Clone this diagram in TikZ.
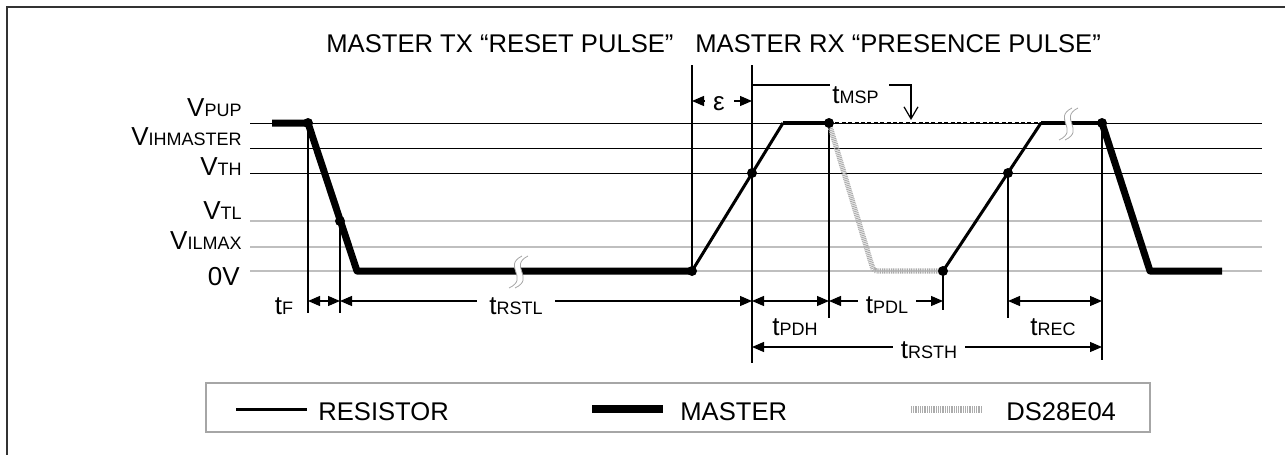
\documentclass[tikz,border=0pt]{standalone}
\usepackage{fontspec}
\setmainfont{Liberation Sans}
\usetikzlibrary{arrows.meta, positioning}

\newcommand{\sig}[2]{{\fontsize{13}{14}\selectfont #1}{\fontsize{9}{10}\selectfont #2}}
\newcommand{\wavebreak}[1]{%
  \begin{scope}[shift={(#1)}]
    \fill[white] (5,-15) .. controls (-15,-5) and (13,7) .. (-8,17) -- (-2,17) .. controls (19,7) and (-9,-5) .. (11,-15) -- cycle;
    \draw[brkline] (5,-15) .. controls (-15,-5) and (13,7) .. (-8,17);
    \draw[brkline] (11,-15) .. controls (-9,-5) and (19,7) .. (-2,17);
  \end{scope}}

\begin{document}
\begin{tikzpicture}[
    x=0.5pt, y=-0.5pt,
    txt/.style={inner sep=0, anchor=base west, font=\fontsize{12.8}{14}\selectfont},
    lbl/.style={inner sep=0, anchor=base east, font=\fontsize{13}{14}\selectfont},
    tlbl/.style={inner sep=0, anchor=base},
    gaplbl/.style={tlbl, fill=white, inner ysep=1pt},
    ref/.style={line width=0.5pt},
    refgray/.style={line width=0.8pt, gray!50},
    tick/.style={line width=0.6pt},
    resistor/.style={line width=1.5pt, line join=round},
    flat/.style={line width=2pt},
    master/.style={line width=3.5pt, line join=round},
    device/.style={line width=2.6pt, gray!65, dash pattern=on 0.5pt off 0.4pt},
    dotline/.style={line width=1.2pt, dash pattern=on 2pt off 1.2pt},
    dot/.style={circle, fill, inner sep=0, minimum size=5pt},
    dim/.style={line width=0.6pt, -{Triangle[length=6pt,width=5pt]}},
    ddim/.style={line width=0.6pt, {Triangle[length=6pt,width=5pt]}-{Triangle[length=6pt,width=5pt]}},
    brkline/.style={gray!70, line width=0.4pt}
]
    \useasboundingbox (0,0) rectangle (1285,455);
    \draw[line width=1pt, black!80] (7,460) -- (7,7) -- (1290,7);

    % Titles
    \node[txt] (txtitle) at (326,52) {MASTER TX “RESET PULSE”};
    \node[txt] (rxtitle) at (695,52) {MASTER RX “PRESENCE PULSE”};

    % Levels
    \foreach \y in {123,148,173} \draw[ref] (250,\y) -- (1262,\y);
    \foreach \y in {221,247,271} \draw[refgray] (250,\y) -- (1262,\y);
    \node[lbl] (vpup) at (242,116) {\sig{V}{PUP}};
    \node[lbl] (vih) at (242,145) {\sig{V}{IHMASTER}};
    \node[lbl] (vth) at (242,175) {\sig{V}{TH}};
    \node[lbl] (vtl) at (242,219) {\sig{V}{TL}};
    \node[lbl] (vil) at (242,249) {\sig{V}{ILMAX}};
    \node[lbl] (zero) at (240,285) {0V};

    % Waveform points
    \coordinate (m0) at (272,123);
    \coordinate (m1) at (308,123);
    \coordinate (m2) at (340,221);
    \coordinate (m3) at (357,271);
    \coordinate (r0) at (692,271);
    \coordinate (r1) at (752,173);
    \coordinate (r2) at (783,123);
    \coordinate (d0) at (829,123);
    \coordinate (d1) at (872,266);
    \coordinate (d2) at (880,271);
    \coordinate (r3) at (943,271);
    \coordinate (r4) at (1008,173);
    \coordinate (r5) at (1041,123);
    \coordinate (m4) at (1102,123);
    \coordinate (m5) at (1150,271);
    \coordinate (m6) at (1222,271);
    \coordinate (rowA) at (0,301);
    \coordinate (rowB) at (0,347);
    \coordinate (rowE) at (0,101);
    \coordinate (rowM) at (0,85);

    % Markers
    \draw[tick] (m1) -- ++(0,190);
    \draw[tick] (m2) -- ++(0,92);
    \draw[tick] (r0) -- ++(0,-206);
    \draw[tick] (r1) -- ++(0,-108);
    \draw[tick] (r1) -- ++(0,190);
    \draw[tick] (d0) -- ++(0,195);
    \draw[tick] (r3) -- ++(0,39);
    \draw[tick] (r4) -- ++(0,145);
    \draw[tick] (m4) -- ++(0,237);

    % Signals
    \draw[device] (d0) -- (d1) .. controls (874,271) .. (d2) -- (r3);
    \draw[master] (m0) -- (m1) -- (m3) -- (r0);
    \draw[resistor] (r0) -- (r2);
    \draw[flat] (r2) -- (d0);
    \draw[dotline] (d0) -- (r5);
    \draw[resistor] (r3) -- (r5);
    \draw[flat] (r5) -- (m4);
    \draw[master] (m4) -- (m5) -- (m6);
    \wavebreak{517,271}
    \wavebreak{1067,123}
    \foreach \p in {m1,m2,r0,r1,d0,r3,r4,m4} \node[dot] (dot-\p) at (\p) {};

    % Timing
    \draw[ddim] (m1 |- rowA) -- (m2 |- rowA);
    \node[tlbl] (tf) at (284,314) {\sig{t}{F}};
    \draw[ddim] (m2 |- rowA) -- (r1 |- rowA);
    \node[gaplbl, inner xsep=6pt] (trstl) at (516,314) {\sig{t}{RSTL}};
    \draw[ddim] (r1 |- rowA) -- (d0 |- rowA);
    \node[tlbl] (tpdh) at (795,335) {\sig{t}{PDH}};
    \draw[ddim] (d0 |- rowA) -- (r3 |- rowA);
    \node[gaplbl, inner xsep=4pt] (tpdl) at (887,313) {\sig{t}{PDL}};
    \draw[ddim] (r4 |- rowA) -- (m4 |- rowA);
    \node[tlbl] (trec) at (1053,335) {\sig{t}{REC}};
    \draw[ddim] (r1 |- rowB) -- (m4 |- rowB);
    \node[gaplbl, inner xsep=4pt] (trsth) at (929,358) {\sig{t}{RSTH}};

    \draw[dim] (705,101) -- (r0 |- rowE);
    \draw[dim] (734,101) -- (r1 |- rowE);
    \node[tlbl, font=\fontsize{13}{14}\selectfont] (eps) at (719,110) {ε};
    \draw[tick] (r1 |- rowM) -- (830,85);
    \node[inner sep=0, anchor=base west] (tmsp) at (832,103) {\sig{t}{MSP}};
    \draw[tick, -{Straight Barb[length=6pt,width=7pt]}] (889,85) -- (911,85) -- (911,120);

    % Legend
    \draw[gray!70, line width=0.8pt] (206,383) rectangle (1150,432);
    \draw[resistor] (236,409) -- (307,409);
    \node[txt] (lres) at (318,420) {RESISTOR};
    \draw[master, line width=4pt] (592,409) -- (663,409);
    \node[txt] (lmas) at (680,420) {MASTER};
    \draw[device, line width=3.5pt] (911,409) -- (982,409);
    \node[txt] (ldev) at (1006,420) {DS28E04};
\end{tikzpicture}
\end{document}
